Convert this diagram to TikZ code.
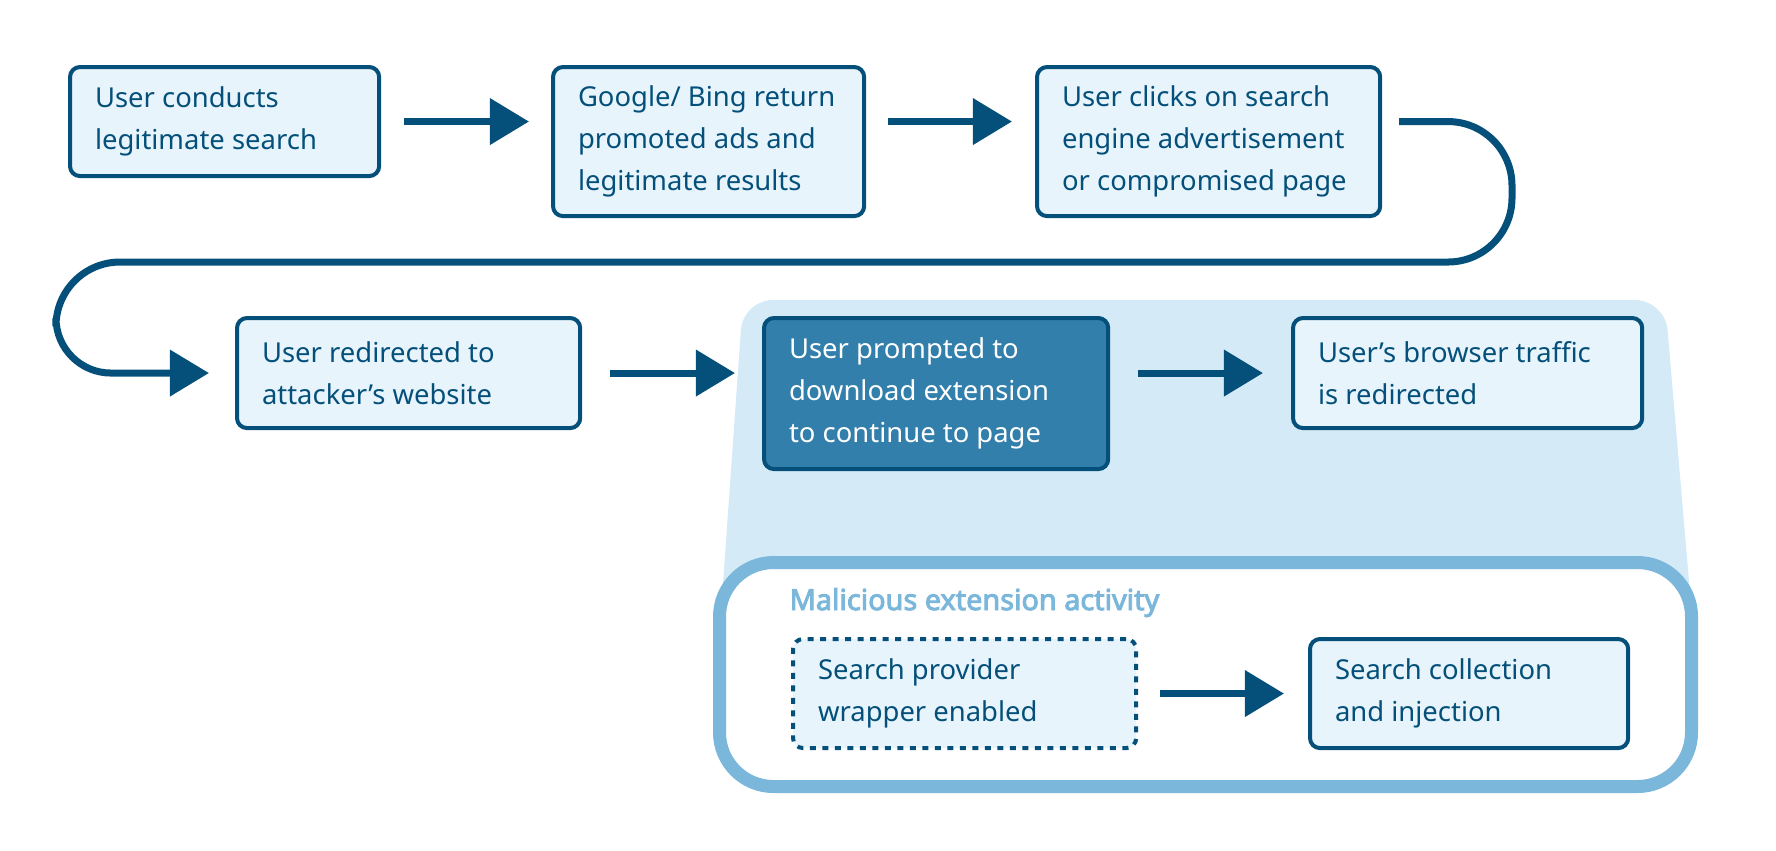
\documentclass[tikz,border=0pt]{standalone}
\usepackage{fontspec}
\setmainfont{Noto Sans}
\newfontfamily\titlefont{Noto Sans}[FakeBold=3.2]
\usetikzlibrary{arrows.meta, calc}

\definecolor{navy}{HTML}{04507A}
\definecolor{boxfill}{HTML}{E8F4FB}
\definecolor{darkfill}{HTML}{337FAB}
\definecolor{zoomfill}{HTML}{D4EAF7}
\definecolor{framecol}{HTML}{7AB7DA}

\begin{document}
\begin{tikzpicture}[
    x=0.01cm, y=-0.01cm, % one unit = one layout pixel, y runs downwards
    >={Triangle[length=0.39cm, width=0.45cm]}, % Big solid arrow heads
    stepbox/.style 2 args={draw=navy, fill=boxfill, line width=0.04cm, rounded corners=0.1cm,
        anchor=north west, align=flush left, inner xsep=0.25cm, text=navy,
        text width=#1, minimum height=#2, font=\fontsize{7.8pt}{11.9pt}\selectfont},
    hotbox/.style={fill=darkfill, text=white}, % Highlighted step
    dotbox/.style={dash pattern=on 0.06cm off 0.065cm}, % Optional step
    flow/.style={->, draw=navy, line width=0.07cm} % Connectors
]
\useasboundingbox (0,0) rectangle (1776,850);

% Zoom region behind the extension step
\fill[zoomfill, rounded corners=0.3cm] (719,640) -- (743,300) -- (1665,300) -- (1694,640) -- cycle;

% Frame of the extension activity
\draw[framecol, fill=white, line width=0.13cm, rounded corners=0.54cm] (719.5,562.5) rectangle (1691.5,786.5);
\node[anchor=base west, inner sep=0pt, text=framecol, font=\fontsize{8.2pt}{11.9pt}\titlefont] (ttl) at (789,610) {Malicious extension activity};

% First row
\node[stepbox={2.59cm}{1.09cm}] (b1) at (68,65) {User conducts\\legitimate search};
\node[stepbox={2.61cm}{1.49cm}] (b2) at (551,65) {Google/ Bing return\\promoted ads and\\legitimate results};
\node[stepbox={2.93cm}{1.49cm}] (b3) at (1035,65) {User clicks on search\\engine advertisement\\or compromised page};

% Second row
\node[stepbox={2.93cm}{1.10cm}] (b4) at (235,316) {User redirected to\\attacker’s website};
\node[stepbox={2.94cm}{1.51cm}, hotbox] (b5) at (762,316) {User prompted to\\download extension\\to continue to page};
\node[stepbox={2.99cm}{1.10cm}] (b6) at (1291,316) {User's browser traffic\\is redirected};

% Inside the frame
\node[stepbox={2.93cm}{1.09cm}, dotbox] (b7) at (791,637) {Search provider\\wrapper enabled};
\node[stepbox={2.68cm}{1.09cm}] (b8) at (1308,637) {Search collection\\and injection};

% Turning points of the long connector
\coordinate (rt) at (1512,262);
\coordinate (lt) at (56,262);

% Connectors
\draw[flow] ($(b1.east)+(23,0)$) -- ($(b1.east -| b2.west)+(-22,0)$);
\draw[flow] ($(b1.east -| b2.east)+(22,0)$) -- ($(b1.east -| b3.west)+(-23,0)$);
\draw[flow, rounded corners=0.64cm] ($(b3.east |- b1.east)+(17,0)$) -- (b1.east -| rt) -- (rt)
    -- (lt) [rounded corners=0.55cm] -- (lt |- b4.west) -- ($(b4.west)+(-26,0)$);
\draw[flow] ($(b4.east)+(28,0)$) -- ($(b4.east -| b5.west)+(-27,0)$);
\draw[flow] ($(b6.west -| b5.east)+(28,0)$) -- ($(b6.west)+(-28,0)$);
\draw[flow] ($(b7.east)+(22,0)$) -- ($(b8.west)+(-24,0)$);

\end{tikzpicture}
\end{document}
